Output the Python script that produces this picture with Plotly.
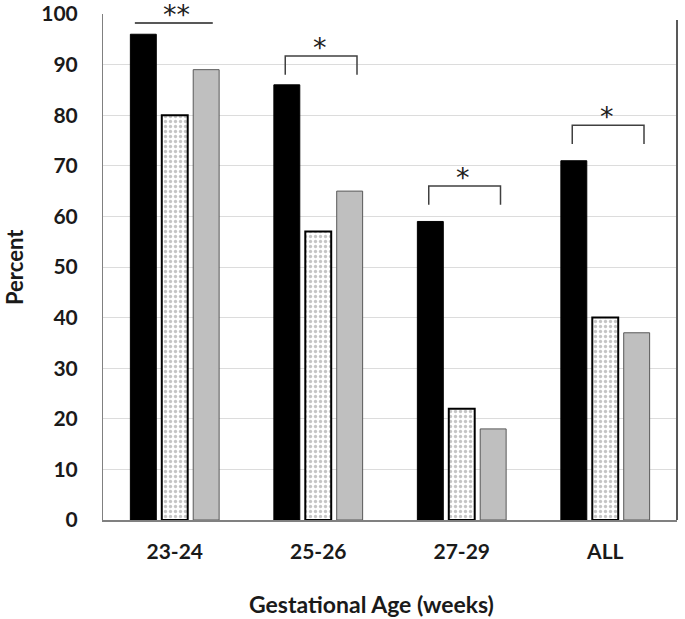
import plotly.graph_objects as go

categories = ["23-24", "25-26", "27-29", "ALL"]
series_black = [96, 86, 59, 71]
series_dotted = [80, 57, 22, 40]
series_gray = [89, 65, 18, 37]

# significance markers per category: label, bracket top value, whether legs drawn
sig_labels = ["**", "*", "*", "*"]
sig_top = [98.2, 91.7, 66.0, 78.0]
sig_legs = [False, True, True, True]

FONT = "Lato"

fig = go.Figure()
fig.add_trace(go.Bar(x=categories, y=series_black, name="A",
                     marker=dict(color="#000000", line=dict(color="#000000", width=1))))
fig.add_trace(go.Bar(x=categories, y=series_dotted, name="B",
                     marker=dict(color="#ffffff",
                                 pattern=dict(shape=".", fgcolor="#8c8c8c", bgcolor="#ffffff",
                                              size=5, solidity=0.35),
                                 line=dict(color="#000000", width=2))))
fig.add_trace(go.Bar(x=categories, y=series_gray, name="C",
                     marker=dict(color="#bfbfbf", line=dict(color="#595959", width=1))))

shapes = []
annotations = []
leg = 3.7
for i, (lab, top, legs) in enumerate(zip(sig_labels, sig_top, sig_legs)):
    if legs:
        x0, x1 = i - 0.23, i + 0.27
        shapes.append(dict(type="path", xref="x", yref="y",
                           path=f"M {x0} {top-leg} L {x0} {top} L {x1} {top} L {x1} {top-leg}",
                           line=dict(color="#404040", width=1.5)))
    else:
        x0, x1 = i - 0.278, i + 0.265
        shapes.append(dict(type="line", xref="x", yref="y", x0=x0, x1=x1, y0=top, y1=top,
                           line=dict(color="#202020", width=1.5)))
    annotations.append(dict(x=i + 0.01, y=top, xref="x", yref="y", text=lab, showarrow=False,
                            yanchor="bottom", yshift=-9,
                            font=dict(family="DejaVu Sans", size=27, color="#202020")))

W, H = 685, 619
plot_left, plot_right, plot_top, plot_bottom = 103, 677, 14, 520
L = plot_left
R = W - plot_right
T = plot_top
B = H - plot_bottom
pw, ph = W - L - R, H - T - B

# axis titles (pixel positions converted to paper coords)
annotations.append(dict(x=(371 - plot_left) / pw, y=-(604 - plot_bottom) / ph,
                        xref="paper", yref="paper",
                        text="<b>Gestational Age (weeks)</b>",
                        showarrow=False, yanchor="middle", xanchor="center",
                        font=dict(family=FONT, size=23, color="#1a1a1a")))
annotations.append(dict(x=-(plot_left - 14) / pw, y=0.5, xref="paper", yref="paper",
                        text="<b>Percent</b>",
                        showarrow=False, textangle=-90, xanchor="center", yanchor="middle",
                        font=dict(family=FONT, size=22, color="#1a1a1a")))

# right border line
shapes.append(dict(type="line", xref="paper", yref="y", x0=1, x1=1, y0=0, y1=98.8,
                   line=dict(color="#595959", width=2)))

fig.update_layout(
    width=W, height=H,
    margin=dict(l=L, r=R, t=T, b=B, autoexpand=False),
    paper_bgcolor="white", plot_bgcolor="white",
    barmode="group", bargap=0.343, bargroupgap=0.175,
    showlegend=False,
    shapes=shapes, annotations=annotations,
    font=dict(family=FONT, color="#1a1a1a"),
)
fig.update_xaxes(
    showline=True, linecolor="#808080", linewidth=1.5, automargin=False,
    tickfont=dict(family=FONT, size=21, color="#1a1a1a", weight="bold"),
    ticks="", ticklabelstandoff=12,
)
fig.update_yaxes(
    range=[0, 100], dtick=10, showgrid=True, gridcolor="#dcdcdc", gridwidth=1,
    zeroline=False, showline=True, linecolor="#808080", linewidth=1, automargin=False,
    tickfont=dict(family=FONT, size=21, color="#1a1a1a", weight="bold"),
    ticks="", ticklabelstandoff=20,
)

fig.write_html("out.html", config={"displayModeBar": False},
               post_script="document.body.style.margin='0';document.body.style.overflow='hidden';")
